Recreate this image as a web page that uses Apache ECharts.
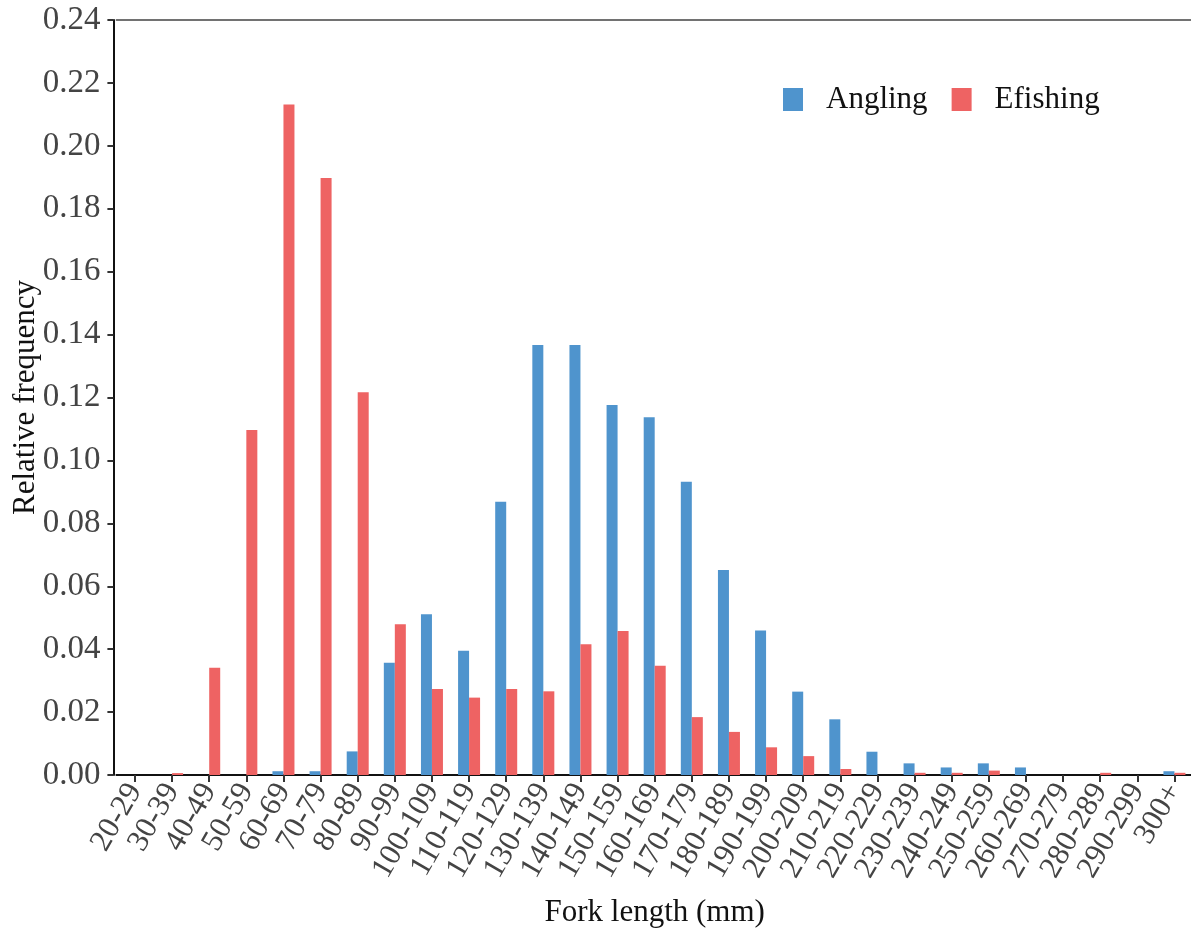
<!DOCTYPE html>
<html>
<head>
<meta charset="utf-8">
<script src="https://cdn.jsdelivr.net/npm/echarts@6/dist/echarts.min.js"></script>
<style>html,body{margin:0;padding:0;background:#fff;}#c{width:1191px;height:928px;}</style>
</head>
<body>
<div id="c"></div>
<script>
const categories = ['20-29','30-39','40-49','50-59','60-69','70-79','80-89','90-99','100-109','110-119','120-129','130-139','140-149','150-159','160-169','170-179','180-189','190-199','200-209','210-219','220-229','230-239','240-249','250-259','260-269','270-279','280-289','290-299','300+'];
const angling = [0,0,0,0,0.0012,0.0012,0.0075,0.0357,0.0511,0.0395,0.0869,0.1367,0.1367,0.1176,0.1137,0.0932,0.0652,0.0459,0.0265,0.0177,0.0074,0.0037,0.0024,0.0037,0.0024,0,0,0,0.0012];
const efishing = [0,0.0006,0.0341,0.1097,0.2131,0.1898,0.1217,0.0479,0.0273,0.0246,0.0273,0.0266,0.0416,0.0458,0.0347,0.0184,0.0137,0.0088,0.006,0.0019,0,0.0007,0.0007,0.0014,0,0,0.0007,0,0.0007];
const yTicks = {min: 0, max: 0.24, interval: 0.02};

const font = 'Liberation Serif, Times New Roman, serif';
const chart = echarts.init(document.getElementById('c'), null, {renderer: 'canvas'});
chart.setOption({
  animation: false,
  backgroundColor: '#fff',
  grid: {left: 116.4, top: 20, width: 1076.6, bottom: 153, containLabel: false, outerBoundsMode: 'none'},
  legend: {
    data: ['Angling', 'Efishing'],
    left: 778, top: 79,
    itemWidth: 20, itemHeight: 23, itemGap: 24,
    icon: 'rect',
    textStyle: {fontFamily: font, fontSize: 31, color: '#111', padding: [0, 0, 0, 18]}
  },
  xAxis: [{
    type: 'category',
    data: categories,
    position: 'bottom',
    name: 'Fork length (mm)',
    nameLocation: 'middle',
    nameGap: 122,
    nameTextStyle: {fontFamily: font, fontSize: 31, color: '#111'},
    axisLine: {show: true, lineStyle: {color: '#111', width: 2}},
    axisTick: {show: true, alignWithLabel: true, length: 7, lineStyle: {color: '#333', width: 2}},
    axisLabel: {rotate: 60, interval: 0, fontFamily: font, fontSize: 31, color: '#444', margin: 11}
  }, {
    type: 'category',
    data: categories,
    position: 'top',
    axisLine: {show: true, lineStyle: {color: '#444', width: 1.5}},
    axisTick: {show: false},
    axisLabel: {show: false}
  }],
  yAxis: {
    type: 'value',
    min: yTicks.min, max: yTicks.max, interval: yTicks.interval,
    offset: 3,
    name: 'Relative frequency',
    nameLocation: 'middle',
    nameGap: 72,
    nameMoveOverlap: false,
    nameTextStyle: {fontFamily: font, fontSize: 31, color: '#111'},
    splitLine: {show: false},
    axisLine: {show: true, lineStyle: {color: '#111', width: 2}},
    axisTick: {show: true, length: 6, lineStyle: {color: '#333', width: 2}},
    axisLabel: {fontFamily: font, fontSize: 33, color: '#444', margin: 13, formatter: v => v.toFixed(2)}
  },
  series: [{
    name: 'Angling', type: 'bar', data: angling,
    barWidth: 11, barGap: '0%',
    itemStyle: {color: '#4F94CD'}
  }, {
    name: 'Efishing', type: 'bar', data: efishing,
    barWidth: 11, barGap: '0%',
    itemStyle: {color: '#EE6363'}
  }]
});
</script>
</body>
</html>
